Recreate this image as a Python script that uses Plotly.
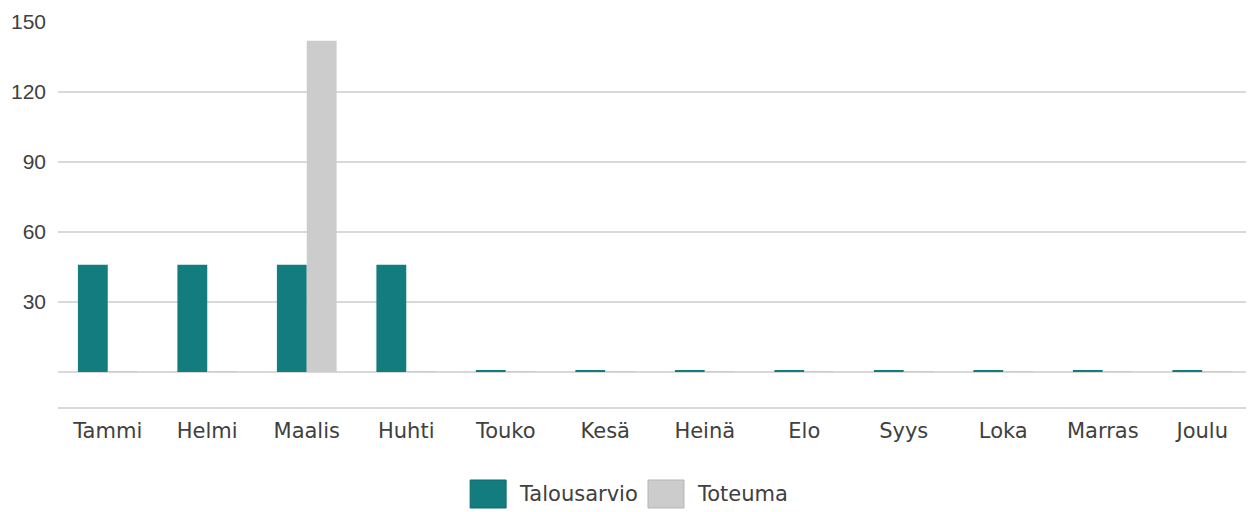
import plotly.graph_objects as go

months = ["Tammi", "Helmi", "Maalis", "Huhti", "Touko", "Kesä", "Heinä", "Elo",
          "Syys", "Loka", "Marras", "Joulu"]
talousarvio = [46, 46, 46, 46, 0.6, 0.6, 0.6, 0.6, 0.6, 0.6, 0.6, 0.6]
toteuma = [0.3, 0.3, 142, 0.3, 0.3, 0.3, 0.3, 0.3, 0.3, 0.3, 0.3, 0.3]
series_names = ["Talousarvio", "Toteuma"]
ytick_vals = [30, 60, 90, 120, 150]

TEAL = "#137c7f"
GREY = "#cccccc"
GRID = "#d9d9d9"
TEXT = "#404040"

OFF = 8  # default page body margin
W, H = 1254 - OFF, 512 - OFF
L, R, T, B = 57.5 - OFF, 1.5, 22 - OFF, 105
PW, PH = W - L - R, H - T - B

def px(x):
    return (x - OFF - L) / PW

def py(y):
    return (H - B - (y - OFF)) / PH

fig = go.Figure()
fig.add_trace(go.Bar(x=months, y=talousarvio, name=series_names[0],
                     marker=dict(color=TEAL, line=dict(width=0)), showlegend=False))
fig.add_trace(go.Bar(x=months, y=toteuma, name=series_names[1],
                     marker=dict(color=GREY, line=dict(width=0)), showlegend=False))

fig.update_layout(
    width=W, height=H,
    margin=dict(l=L, r=R, t=T, b=B, pad=0),
    plot_bgcolor="white", paper_bgcolor="white",
    barmode="group", bargap=0.4, bargroupgap=0,
    font=dict(family="DejaVu Sans", size=21, color=TEXT),
)
fig.update_xaxes(showgrid=False, showline=True, linecolor=GRID, linewidth=1.5,
                 ticks="", ticklabelstandoff=4,
                 tickfont=dict(family="DejaVu Sans", size=21, color=TEXT))
fig.update_yaxes(range=[-15, 150], tickvals=ytick_vals, showgrid=True, gridcolor=GRID,
                 gridwidth=1.5, zeroline=True, zerolinecolor=GRID, zerolinewidth=1.5,
                 showline=False, ticks="", ticklabelstandoff=11,
                 tickfont=dict(family="Liberation Sans", size=21, color=TEXT))

# custom legend
box_y0, box_y1 = 480, 508
items = [(470, 506, 517, TEAL, "#0f6a6c", series_names[0]),
         (648, 684, 695, GREY, "#b3b3b3", series_names[1])]
for bx0, bx1, tx, col, lcol, name in items:
    fig.add_shape(type="rect", xref="paper", yref="paper",
                  x0=px(bx0), x1=px(bx1), y0=py(box_y1), y1=py(box_y0),
                  fillcolor=col, line=dict(color=lcol, width=1))
    fig.add_annotation(xref="paper", yref="paper", x=px(tx), y=py(494),
                       xanchor="left", yanchor="middle", text=name, showarrow=False,
                       font=dict(family="DejaVu Sans", size=21, color=TEXT))

fig.write_html("out.html")
